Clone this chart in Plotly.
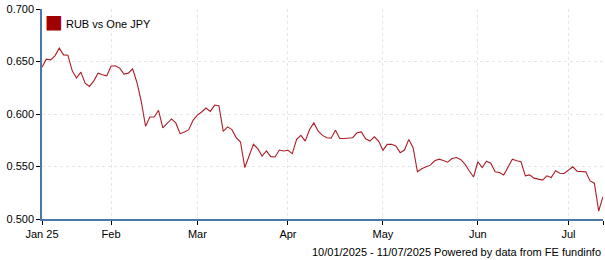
import pandas as pd
import plotly.graph_objects as go

# Business-day dates shown on the chart (10/01/2025 - 11/07/2025)
dates = pd.bdate_range("2025-01-10", "2025-07-11")

rub_vs_jpy = [
    0.6446, 0.6522, 0.6516, 0.6554, 0.6627, 0.6563, 0.6560, 0.6411, 0.6342, 0.6399,
    0.6294, 0.6263, 0.6316, 0.6389, 0.6373, 0.6364, 0.6455, 0.6459, 0.6437, 0.6380,
    0.6389, 0.6430, 0.6300, 0.6120, 0.5883, 0.5972, 0.5972, 0.6035, 0.5867, 0.5915,
    0.5953, 0.5915, 0.5813, 0.5829, 0.5851, 0.5940, 0.5990, 0.6019, 0.6057, 0.6025,
    0.6085, 0.6079, 0.5835, 0.5877, 0.5851, 0.5775, 0.5733, 0.5490, 0.5600, 0.5711,
    0.5670, 0.5600, 0.5648, 0.5594, 0.5591, 0.5657, 0.5648, 0.5654, 0.5623, 0.5758,
    0.5796, 0.5742, 0.5852, 0.5915, 0.5836, 0.5796, 0.5774, 0.5770, 0.5846, 0.5767,
    0.5767, 0.5767, 0.5774, 0.5821, 0.5830, 0.5764, 0.5742, 0.5783, 0.5742, 0.5654,
    0.5711, 0.5711, 0.5695, 0.5632, 0.5657, 0.5758, 0.5679, 0.5450, 0.5478, 0.5497,
    0.5513, 0.5554, 0.5570, 0.5557, 0.5541, 0.5576, 0.5586, 0.5567, 0.5522, 0.5459,
    0.5400, 0.5545, 0.5490, 0.5551, 0.5532, 0.5449, 0.5443, 0.5420, 0.5494, 0.5570,
    0.5554, 0.5545, 0.5411, 0.5420, 0.5389, 0.5382, 0.5370, 0.5411, 0.5395, 0.5459,
    0.5436, 0.5433, 0.5465, 0.5497, 0.5455, 0.5452, 0.5449, 0.5363, 0.5341, 0.5076,
    0.5213,
]

tick_dates = ["2025-01-10", "2025-02-03", "2025-03-03", "2025-04-01",
              "2025-05-01", "2025-06-02", "2025-07-01", "2025-07-11"]
tick_labels = ["Jan 25", "Feb", "Mar", "Apr", "May", "Jun", "Jul", ""]
y_ticks = [0.5, 0.55, 0.6, 0.65, 0.7]

series_name = "RUB vs One JPY"
line_color = "#ab1f27"
swatch_color = "#a00000"
axis_color = "#4a78aa"
grid_color = "#e6e6e6"
font_family = "Liberation Sans, Arial, sans-serif"

fig = go.Figure()
fig.add_trace(go.Scatter(
    x=dates, y=rub_vs_jpy, mode="lines",
    line=dict(color=line_color, width=1.1),
    name=series_name, showlegend=False,
))
# legend entry: coloured square swatch drawn as text before the series name
legend_label = ('<span style="color:%s;font-size:19px;font-family:DejaVu Sans">&#9632;</span> %s'
                % (swatch_color, series_name))
fig.add_trace(go.Scatter(
    x=[None], y=[None], mode="markers",
    marker=dict(symbol="square", size=1, color="rgba(0,0,0,0)"),
    name=legend_label, showlegend=True,
))

fig.update_layout(
    width=605, height=260,
    margin=dict(l=42, r=2, t=9, b=41),
    paper_bgcolor="white", plot_bgcolor="white",
    font=dict(family=font_family, size=11, color="#000000"),
    legend=dict(x=-0.066, y=1.0, xanchor="left", yanchor="top",
                bgcolor="rgba(0,0,0,0)", font=dict(size=11),
                itemwidth=30, tracegroupgap=0),
    annotations=[dict(
        text="10/01/2025 - 11/07/2025 Powered by data from FE fundinfo",
        xref="paper", yref="paper", x=1.0, y=-0.12,
        xanchor="right", yanchor="top", showarrow=False,
        font=dict(size=11, color="#000000"),
    )],
)

fig.update_xaxes(
    type="date",
    range=[tick_dates[0], tick_dates[-1]],
    rangebreaks=[dict(bounds=["sat", "mon"])],
    tickmode="array", tickvals=tick_dates, ticktext=tick_labels,
    ticks="outside", ticklen=4, tickcolor="#000000",
    showline=True, linecolor=axis_color, linewidth=1.5,
    showgrid=True, gridcolor=grid_color, griddash="3px,3px", gridwidth=1,
    zeroline=False, tickfont=dict(size=11),
)
fig.update_yaxes(
    range=[0.5, 0.7],
    tickmode="array", tickvals=y_ticks, tickformat=".3f",
    ticks="outside", ticklen=4, tickcolor="#000000",
    showline=True, linecolor=axis_color, linewidth=1.5,
    showgrid=True, gridcolor=grid_color, griddash="3px,3px", gridwidth=1,
    zeroline=False, tickfont=dict(size=11),
)

fig.write_html("out.html")
